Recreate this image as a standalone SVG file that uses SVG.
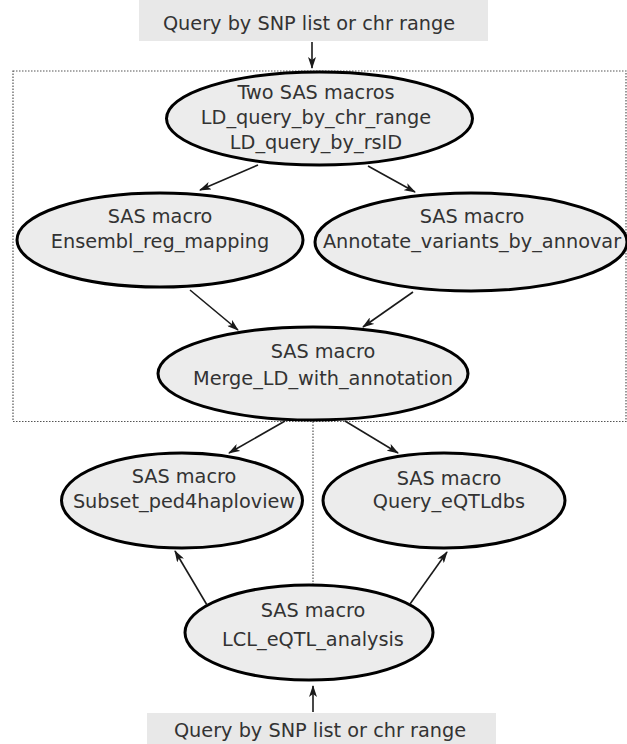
<svg xmlns="http://www.w3.org/2000/svg" width="627" height="744" viewBox="0 0 627 744">
<defs>
<marker id="ah" viewBox="0 0 12 8" refX="11" refY="4" markerWidth="12" markerHeight="8" markerUnits="userSpaceOnUse" orient="auto">
<path d="M0,0 L12,4 L0,8 L3,4 Z" fill="#1a1a1a"/>
</marker>
<style>
.node ellipse{fill:#ececec;stroke:#000;stroke-width:3}
.box{fill:#e8e8e8;stroke:none}
text{font-family:"DejaVu Sans",Verdana,sans-serif;font-size:19.3px;fill:#333;text-anchor:middle}
.edge{stroke:#1a1a1a;stroke-width:1.6;fill:none;marker-end:url(#ah)}
.dot{fill:none;stroke:#555;stroke-width:1.2;stroke-dasharray:1.5 1.5}
</style>
</defs>
<rect class="dot" x="13" y="71" width="613" height="350.5"/>
<line class="dot" x1="313" y1="421.5" x2="313" y2="586"/>
<g id="query_top" class="node"><rect class="box" x="139" y="0" width="349" height="41"/><text x="309" y="30">Query by SNP list or chr range</text></g>
<g id="ld_query" class="node"><ellipse cx="319.5" cy="118.5" rx="153" ry="46.5"/><text x="316" y="99">Two SAS macros</text><text x="316" y="124">LD_query_by_chr_range</text><text x="316" y="149">LD_query_by_rsID</text></g>
<g id="ensembl" class="node"><ellipse cx="160" cy="240" rx="143" ry="47"/><text x="160" y="223">SAS macro</text><text x="160" y="248">Ensembl_reg_mapping</text></g>
<g id="annotate" class="node"><ellipse cx="471" cy="242" rx="156" ry="49"/><text x="472" y="223">SAS macro</text><text x="472" y="248">Annotate_variants_by_annovar</text></g>
<g id="merge" class="node"><ellipse cx="313" cy="373.5" rx="155" ry="46.5"/><text x="323" y="358">SAS macro</text><text x="323" y="385">Merge_LD_with_annotation</text></g>
<g id="subset" class="node"><ellipse cx="182" cy="500.5" rx="120.5" ry="47.5"/><text x="184" y="483">SAS macro</text><text x="184" y="508">Subset_ped4haploview</text></g>
<g id="eqtldbs" class="node"><ellipse cx="444" cy="500.5" rx="121" ry="47.5"/><text x="449" y="485">SAS macro</text><text x="449" y="508">Query_eQTLdbs</text></g>
<g id="lcl" class="node"><ellipse cx="309" cy="632.5" rx="124" ry="47.5"/><text x="313" y="617">SAS macro</text><text x="313" y="646">LCL_eQTL_analysis</text></g>
<g id="query_bottom" class="node"><rect class="box" x="147" y="713" width="349" height="31"/><text x="320" y="737">Query by SNP list or chr range</text></g>
<g id="connectors">
<line class="edge" x1="312" y1="42" x2="312" y2="68"/>
<line class="edge" x1="258" y1="165" x2="200" y2="190"/>
<line class="edge" x1="368" y1="166" x2="415" y2="192"/>
<line class="edge" x1="190" y1="290" x2="238" y2="330"/>
<line class="edge" x1="413" y1="292" x2="363" y2="327"/>
<line class="edge" x1="285" y1="421" x2="229" y2="453"/>
<line class="edge" x1="345" y1="421" x2="398" y2="453"/>
<line class="edge" x1="207" y1="605" x2="175" y2="551"/>
<line class="edge" x1="410" y1="604" x2="447" y2="552"/>
<line class="edge" x1="313" y1="712" x2="313" y2="686"/>
</g>
</svg>
